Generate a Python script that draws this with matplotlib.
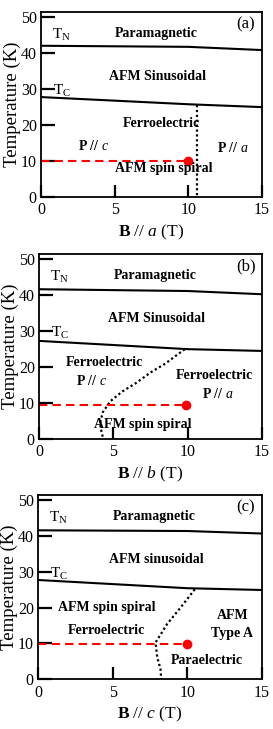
import matplotlib
matplotlib.use("Agg")
from matplotlib import pyplot as plt

plt.rcParams["font.family"] = ["Liberation Serif", "DejaVu Serif"]
plt.rcParams["mathtext.fontset"] = "custom"
plt.rcParams["mathtext.rm"] = "Liberation Serif"
plt.rcParams["mathtext.it"] = "Liberation Serif:italic"
plt.rcParams["mathtext.bf"] = "Liberation Serif:bold"

# phase boundaries, B (T) vs T (K)
tn_b = [0, 10, 15]
tn_a = [42.1, 41.8, 40.9]
tn_bb = [41.7, 41.2, 40.3]
tn_c = [41.6, 41.4, 40.7]

tc_b = [0, 10, 15]
tc_a = [27.8, 25.8, 25.0]
tc_bb = [27.3, 25.0, 24.5]
tc_c = [27.7, 25.4, 24.9]

# field-induced boundaries (dotted)
sep_a_B = [10.6, 10.6]
sep_a_T = [25.7, 0]
sep_b_B = [9.8, 8.5, 7.5, 6.5, 5.6, 4.8, 4.3, 4.1, 4.2, 4.3]
sep_b_T = [25.0, 21.0, 18.5, 15.5, 13.2, 10.5, 7.5, 4.5, 2.0, 0.3]
sep_c_B = [10.5, 9.55, 8.65, 7.87, 7.98, 8.2, 8.25]
sep_c_T = [25.1, 20.0, 15.4, 10.2, 6.1, 2.8, 0]

# measurement point
meas_B = [10.0, 9.9, 9.95]
meas_T = [10.0, 9.3, 9.8]

panels = [
    dict(rect=[0.150, 0.730, 0.810, 0.2535], tn=tn_a, tc=tc_a,
         sb=sep_a_B, st=sep_a_T, mb=meas_B[0], mt=meas_T[0], tag="(a)", ax_="a",
         sin="AFM Sinusoidal",
         texts=[(8.2, 20.5, "Ferroelectric"), (3.6, 14.3, r"$\mathbf{P}$ // $\mathit{c}$"),
                (13.0, 13.5, r"$\mathbf{P}$ // $\mathit{a}$"), (8.3, 8.0, "AFM spin spiral")]),
    dict(rect=[0.143, 0.398, 0.817, 0.2535], tn=tn_bb, tc=tc_bb,
         sb=sep_b_B, st=sep_b_T, mb=meas_B[1], mt=meas_T[1], tag="(b)", ax_="b",
         sin="AFM Sinusoidal",
         texts=[(4.4, 21.3, "Ferroelectric"), (3.5, 16.2, r"$\mathbf{P}$ // $\mathit{c}$"),
                (11.8, 17.6, "Ferroelectric"), (12.0, 12.5, r"$\mathbf{P}$ // $\mathit{a}$"),
                (7.0, 4.0, "AFM spin spiral")]),
    dict(rect=[0.139, 0.0686, 0.821, 0.2525], tn=tn_c, tc=tc_c,
         sb=sep_c_B, st=sep_c_T, mb=meas_B[2], mt=meas_T[2], tag="(c)", ax_="c",
         sin="AFM sinusoidal",
         texts=[(4.6, 20.0, "AFM spin spiral"), (4.6, 13.5, "Ferroelectric"),
                (13.0, 17.7, "AFM"), (13.0, 12.6, "Type A"), (11.3, 5.1, "Paraelectric")]),
]

fig = plt.figure(figsize=(2.73, 7.29), dpi=100)

for p in panels:
    ax = fig.add_axes(p["rect"])
    ax.plot(tn_b, p["tn"], color="black", lw=1.5)
    ax.plot(tc_b, p["tc"], color="black", lw=1.5)
    ax.plot(p["sb"], p["st"], color="black", lw=1.6, ls=(0, (1, 1.2)))
    ax.plot([0, p["mb"]], [p["mt"], p["mt"]], color="red", lw=1.5, ls=(0, (4, 2.5)))
    ax.plot([p["mb"]], [p["mt"]], "o", color="red", ms=6)

    ax.set_xlim(0, 15)
    ax.set_ylim(0, 51.5)
    ax.set_xticks([0, 5, 10, 15])
    ax.set_yticks([0, 10, 20, 30, 40, 50])
    ax.tick_params(direction="in", length=9, width=1.6, labelsize=11.5, pad=4)
    ax.tick_params(axis="y", length=10, pad=3)
    for s in ax.spines.values():
        s.set_linewidth(1.3)

    ax.set_ylabel("Temperature (K)", fontsize=13.5, labelpad=0)
    ax.set_xlabel(r"$\mathbf{B}$ // $\mathit{%s}$ (T)" % p["ax_"], fontsize=12.5, labelpad=3)

    ax.text(1.4, 45.0, r"T$_\mathrm{N}$", fontsize=11, ha="center", va="center")
    ax.text(1.4, 29.5, r"T$_\mathrm{C}$", fontsize=11, ha="center", va="center")
    ax.text(7.8, 45.5, "Paramagnetic", fontsize=10, fontweight="bold", ha="center", va="center")
    ax.text(13.9, 48.0, p["tag"], fontsize=12, ha="center", va="center")
    ax.text(7.9, 33.5, p["sin"], fontsize=10, fontweight="bold", ha="center", va="center")
    for x, y, s in p["texts"]:
        ax.text(x, y, s, fontsize=10, fontweight="bold", ha="center", va="center")

fig.savefig("out.png", dpi=100)
